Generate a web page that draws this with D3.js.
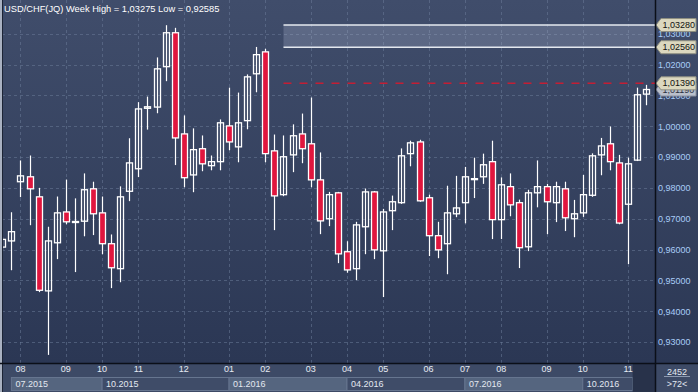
<!DOCTYPE html>
<html>
<head>
<meta charset="utf-8">
<script src="https://cdn.jsdelivr.net/npm/d3@7"></script>
<style>
  html, body { margin: 0; padding: 0; background: #2c3954; overflow: hidden; }
  svg { display: block; font-family: "Liberation Sans", Arial, sans-serif; }
</style>
</head>
<body>
<div id="chart"></div>
<script>
// weekly bars, USD/CHF
var weeks = [
  '2015-07-20', '2015-07-27', '2015-08-03', '2015-08-10', '2015-08-17', '2015-08-24', '2015-08-31',
  '2015-09-07', '2015-09-14', '2015-09-21', '2015-09-28', '2015-10-05', '2015-10-12', '2015-10-19',
  '2015-10-26', '2015-11-02', '2015-11-09', '2015-11-16', '2015-11-23', '2015-11-30', '2015-12-07',
  '2015-12-14', '2015-12-21', '2015-12-28', '2015-12-31', '2016-01-04', '2016-01-11', '2016-01-18',
  '2016-01-25', '2016-02-01', '2016-02-08', '2016-02-15', '2016-02-22', '2016-02-29', '2016-03-07',
  '2016-03-14', '2016-03-21', '2016-03-28', '2016-04-04', '2016-04-11', '2016-04-18', '2016-04-25',
  '2016-05-02', '2016-05-09', '2016-05-16', '2016-05-23', '2016-05-30', '2016-06-06', '2016-06-13',
  '2016-06-20', '2016-06-27', '2016-07-04', '2016-07-11', '2016-07-18', '2016-07-25', '2016-08-01',
  '2016-08-08', '2016-08-15', '2016-08-22', '2016-08-29', '2016-09-05', '2016-09-12', '2016-09-19',
  '2016-09-26', '2016-10-03', '2016-10-10', '2016-10-17', '2016-10-24', '2016-10-31', '2016-11-07',
  '2016-11-14', '2016-11-21'
];

var open = [
  0.9608, 0.9628, 0.9820, 0.9836, 0.9771, 0.9466, 0.9622, 0.9722, 0.9690, 0.9692, 0.9797, 0.9719,
  0.9619, 0.9538, 0.9789, 0.9862, 1.0058, 1.0062, 1.0193, 1.0303, 0.9975, 0.9842, 0.9927, 0.9872,
  0.9885, 1.0001, 0.9933, 1.0018, 1.0170, 1.0241, 0.9920, 0.9778, 0.9907, 0.9975, 0.9943, 0.9826,
  0.9700, 0.9784, 0.9593, 0.9538, 0.9674, 0.9787, 0.9596, 0.9726, 0.9752, 0.9911, 0.9949, 0.9768,
  0.9645, 0.9619, 0.9716, 0.9752, 0.9829, 0.9836, 0.9885, 0.9697, 0.9804, 0.9752, 0.9609, 0.9784,
  0.9804, 0.9752, 0.9797, 0.9700, 0.9719, 0.9776, 0.9907, 0.9943, 0.9881, 0.9747, 0.9890, 1.0104
];
var high = [
  0.9640, 0.9721, 0.9889, 0.9905, 0.9800, 0.9674, 0.9772, 0.9827, 0.9766, 0.9847, 0.9820, 0.9772,
  0.9649, 0.9805, 0.9961, 1.0078, 1.0096, 1.0223, 1.03275, 1.0319, 1.0035, 0.9993, 0.9970, 0.9905,
  1.0022, 1.0125, 1.0109, 1.0168, 1.0257, 1.0251, 0.9973, 0.9970, 1.0006, 1.0041, 1.0093, 0.9915,
  0.9787, 0.9787, 0.9627, 0.9690, 0.9798, 0.9790, 0.9732, 0.9775, 0.9928, 0.9953, 0.9956, 0.9778,
  0.9690, 0.9807, 0.9839, 0.9868, 0.9898, 0.9911, 0.9953, 0.9834, 0.9847, 0.9762, 0.9794, 0.9889,
  0.9813, 0.9820, 0.9820, 0.9761, 0.9842, 0.9912, 0.9962, 0.9999, 0.9907, 0.9898, 1.0125, 1.0134
];
var low = [
  0.9598, 0.9533, 0.9770, 0.9679, 0.9462, 0.92585, 0.9569, 0.9682, 0.9527, 0.9643, 0.9647, 0.9585,
  0.9475, 0.9494, 0.9757, 0.9835, 0.9989, 1.0042, 1.0146, 0.9874, 0.9802, 0.9786, 0.9854, 0.9857,
  0.9857, 0.9922, 0.9883, 0.9990, 1.0110, 0.9883, 0.9663, 0.9773, 0.9851, 0.9880, 0.9802, 0.9650,
  0.9676, 0.9556, 0.9525, 0.9501, 0.9585, 0.9569, 0.9446, 0.9663, 0.9748, 0.9870, 0.9755, 0.9579,
  0.9572, 0.9520, 0.9705, 0.9685, 0.9767, 0.9813, 0.9634, 0.9634, 0.9708, 0.9540, 0.9595, 0.9737,
  0.9650, 0.9689, 0.9660, 0.9640, 0.9706, 0.9771, 0.9841, 0.9857, 0.9682, 0.9553, 0.9887, 1.0068
];
var close = [
  0.9633, 0.9658, 0.9839, 0.9797, 0.9468, 0.9628, 0.9719, 0.9690, 0.9691, 0.9794, 0.9716, 0.9619,
  0.9541, 0.9771, 0.9881, 1.0056, 1.0063, 1.0186, 1.0303, 0.9962, 0.9833, 0.9924, 0.9878, 0.9885,
  1.0011, 0.9949, 1.0011, 1.0160, 1.0232, 0.9911, 0.9774, 0.9901, 0.9969, 0.9927, 0.9826, 0.9693,
  0.9778, 0.9586, 0.9534, 0.9680, 0.9787, 0.9599, 0.9722, 0.9755, 0.9904, 0.9946, 0.9758, 0.9645,
  0.9599, 0.9719, 0.9735, 0.9836, 0.9830, 0.9875, 0.9697, 0.9810, 0.9745, 0.9606, 0.9784, 0.9804,
  0.9755, 0.9804, 0.9703, 0.9716, 0.9778, 0.9904, 0.9936, 0.9885, 0.9686, 0.9878, 1.0102, 1.0119
];

var priceTicks = [0.93, 0.94, 0.95, 0.96, 0.97, 0.98, 0.99, 1.00, 1.01, 1.02, 1.03];

var monthTicks = [
  '2015-08-03', '2015-09-07', '2015-10-05', '2015-11-02', '2015-12-07', '2016-01-04', '2016-02-01',
  '2016-03-07', '2016-04-04', '2016-05-02', '2016-06-06', '2016-07-04', '2016-08-01', '2016-09-05',
  '2016-10-03', '2016-11-07'
];
var monthLabels = ['08', '09', '10', '11', '12', '01', '02', '03', '04', '05', '06', '07', '08', '09', '10', '11'];

var quarterStarts = ['2015-07-27', '2015-10-05', '2016-01-04', '2016-04-04', '2016-07-04', '2016-10-03', '2016-11-14'];
var quarterLabels = ['07.2015', '10.2015', '01.2016', '04.2016', '07.2016', '10.2016'];

// drawn objects: price band and alert level, anchored at a bar
var bandLevels = [1.0328, 1.0256];
var alertLevel = 1.0139;
var objectStart = '2016-02-15';

var titleText = 'USD/CHF(JQ) Week High = 1,03275 Low = 0,92585';
var barCount = '2452';
var visibleBars = '>72<';

var width = 698, height = 392;
var plotRight = 655, plotBottom = 363;

var fmt = function (v) { return d3.format('.5f')(v).replace('.', ','); };

var bars = weeks.map(function (w, i) {
  return { week: w, o: open[i], h: high[i], l: low[i], c: close[i] };
});

var x = d3.scaleBand()
    .domain(weeks)
    .range([-2.2, 650.8]);
var cx = function (w) { return x(w) + x.bandwidth() / 2; };

var y = d3.scaleLinear()
    .domain([0.92322, 1.04092])
    .range([plotBottom, 0]);

var svg = d3.select('#chart').append('svg')
    .attr('width', width)
    .attr('height', height);

var defs = svg.append('defs');
var grad = defs.append('linearGradient')
    .attr('id', 'bg')
    .attr('x1', 0).attr('y1', 0).attr('x2', 0).attr('y2', 1);
grad.append('stop').attr('offset', '0%').attr('stop-color', '#404d6b');
grad.append('stop').attr('offset', '100%').attr('stop-color', '#2b3754');

svg.append('rect')
    .attr('width', width)
    .attr('height', plotBottom)
    .attr('fill', 'url(#bg)');

// bottom time axis strip
svg.append('rect')
    .attr('y', plotBottom)
    .attr('width', width)
    .attr('height', height - plotBottom)
    .attr('fill', '#3d4a66');

var grid = svg.append('g');

grid.selectAll('line.h')
    .data(priceTicks)
  .enter().append('line')
    .attr('x1', 2)
    .attr('x2', plotRight)
    .attr('y1', function (d) { return Math.round(y(d)) + 0.5; })
    .attr('y2', function (d) { return Math.round(y(d)) + 0.5; })
    .style('stroke', '#6a7a98')
    .style('stroke-opacity', 0.55)
    .style('stroke-dasharray', '3,3');

grid.selectAll('line.v')
    .data(monthTicks)
  .enter().append('line')
    .attr('x1', function (d) { return Math.round(cx(d)) + 0.5; })
    .attr('x2', function (d) { return Math.round(cx(d)) + 0.5; })
    .attr('y1', 0)
    .attr('y2', plotBottom + 6)
    .style('stroke', '#6a7a98')
    .style('stroke-opacity', 0.55)
    .style('stroke-dasharray', '3,3');

// price band
var bandX = cx(objectStart);
svg.append('rect')
    .attr('x', bandX)
    .attr('y', y(bandLevels[0]))
    .attr('width', plotRight - bandX)
    .attr('height', y(bandLevels[1]) - y(bandLevels[0]))
    .attr('fill', '#c8d2e6')
    .attr('fill-opacity', 0.22);

svg.append('g').selectAll('line')
    .data(bandLevels)
  .enter().append('line')
    .attr('x1', bandX)
    .attr('x2', plotRight)
    .attr('y1', function (d) { return y(d); })
    .attr('y2', function (d) { return y(d); })
    .style('stroke', '#e4e8ef')
    .style('stroke-width', 1.5);

svg.append('line')
    .attr('x1', bandX)
    .attr('x2', plotRight)
    .attr('y1', y(alertLevel))
    .attr('y2', y(alertLevel))
    .style('stroke', '#c41e34')
    .style('stroke-width', 1.5)
    .style('stroke-dasharray', '8,8');

// candles
var candle = svg.append('g').selectAll('g')
    .data(bars)
  .enter().append('g')
    .attr('transform', function (d) { return 'translate(' + Math.round(cx(d.week)) + ',0)'; });

candle.append('line')
    .attr('x1', 0.5)
    .attr('x2', 0.5)
    .attr('y1', function (d) { return y(d.h); })
    .attr('y2', function (d) { return y(d.l); })
    .style('stroke', '#fff')
    .style('stroke-width', 1.2);

candle.append('rect')
    .attr('x', -2.5)
    .attr('width', 6)
    .attr('y', function (d) { return y(Math.max(d.o, d.c)); })
    .attr('height', function (d) { return Math.max(1, Math.abs(y(d.o) - y(d.c))); })
    .style('fill', function (d) { return d.c < d.o ? '#e0163e' : '#34415e'; })
    .style('fill-opacity', function (d) { return d.c < d.o ? 1 : 0; })
    .style('stroke', '#fff')
    .style('stroke-width', 1.3);

// frame lines
svg.append('rect')
    .attr('width', 2)
    .attr('height', height)
    .attr('fill', '#a9b1c1');
svg.append('line')
    .attr('x1', 2.5).attr('x2', 2.5)
    .attr('y1', 0).attr('y2', height)
    .style('stroke', '#1c2435');

// right price axis
var yAxis = svg.append('g')
    .attr('transform', 'translate(' + (plotRight + 1) + ',0)')
    .call(d3.axisRight(y).tickValues(priceTicks).tickSize(0).tickPadding(2).tickFormat(fmt));
yAxis.select('path').remove();
yAxis.selectAll('text')
    .style('fill', '#a9cdf7')
    .style('font-family', '"Liberation Sans", Arial, sans-serif')
    .style('font-size', '9px');

// price tags
var tag = function (v, bg, edge, ink) {
  var yy = y(v);
  var g = svg.append('g').attr('transform', 'translate(' + (plotRight + 1) + ',' + yy + ')');
  g.append('path')
      .attr('d', 'M0,0 L5,-6.5 L40,-6.5 L40,6.5 L5,6.5 Z')
      .attr('fill', bg)
      .attr('stroke', edge)
      .attr('stroke-width', 1);
  g.append('text')
      .attr('x', 6.5)
      .attr('dy', '0.35em')
      .style('font-size', '9px')
      .style('fill', ink)
      .text(fmt(v));
};
tag(close[close.length - 1], '#b9bfcb', '#8a90a0', '#2a3040');
tag(bandLevels[0], '#dcd8bf', '#8f8f80', '#111');
tag(bandLevels[1], '#dcd8bf', '#8f8f80', '#111');
tag(alertLevel, '#dcd8bf', '#8f8f80', '#111');

// time axis: quarter boxes
svg.append('g').selectAll('rect')
    .data(quarterLabels)
  .enter().append('rect')
    .attr('x', function (d, i) { return cx(quarterStarts[i]); })
    .attr('y', 377.5)
    .attr('width', function (d, i) {
      var end = i === quarterLabels.length - 1 ? x(quarterStarts[i + 1]) : cx(quarterStarts[i + 1]);
      return end - cx(quarterStarts[i]);
    })
    .attr('height', 13)
    .attr('fill', function (d, i) { return i % 2 === 0 ? '#55657f' : '#3f4c68'; })
    .attr('stroke', '#66758f')
    .attr('stroke-width', 1);

svg.append('g').selectAll('text')
    .data(quarterLabels)
  .enter().append('text')
    .attr('x', function (d, i) { return cx(quarterStarts[i]) + 4; })
    .attr('y', 386.5)
    .style('font-size', '9px')
    .style('fill', '#e3e8f0')
    .text(function (d) { return d; });

// empty tail of the time axis
var tailX = x(quarterStarts[quarterStarts.length - 1]);
svg.append('rect')
    .attr('x', tailX)
    .attr('y', plotBottom)
    .attr('width', plotRight - tailX)
    .attr('height', height - plotBottom)
    .attr('fill', '#28324a');

var xAxis = svg.append('g')
    .attr('transform', 'translate(0,' + plotBottom + ')')
    .call(d3.axisBottom(x).tickValues(monthTicks).tickSize(0).tickPadding(3)
      .tickFormat(function (d) { return monthLabels[monthTicks.indexOf(d)]; }));
xAxis.select('path').remove();
xAxis.selectAll('text')
    .style('fill', '#e6ebf3')
    .style('font-family', '"Liberation Sans", Arial, sans-serif')
    .style('font-size', '9px');

// separators
svg.append('line')
    .attr('x1', 0).attr('x2', width)
    .attr('y1', plotBottom + 0.5).attr('y2', plotBottom + 0.5)
    .style('stroke', '#0b0f18')
    .style('stroke-width', 1.5);
svg.append('line')
    .attr('x1', plotRight + 0.5).attr('x2', plotRight + 0.5)
    .attr('y1', 0).attr('y2', height)
    .style('stroke', '#0b0f18')
    .style('stroke-width', 1.5);

// bar counter in the corner
var corner = svg.append('g')
    .style('font-size', '9px')
    .style('fill', '#e3e8f0')
    .style('text-anchor', 'middle');
corner.append('text').attr('x', 677).attr('y', 374.5).text(barCount);
corner.append('line')
    .attr('x1', 664).attr('x2', 690)
    .attr('y1', 376.5).attr('y2', 376.5)
    .style('stroke', '#8e9ab0');
corner.append('text').attr('x', 677).attr('y', 386.5).text(visibleBars);

svg.append('text')
    .attr('x', 4)
    .attr('y', 12)
    .style('font-size', '9.3px')
    .style('fill', '#ffffff')
    .text(titleText);
</script>
</body>
</html>
